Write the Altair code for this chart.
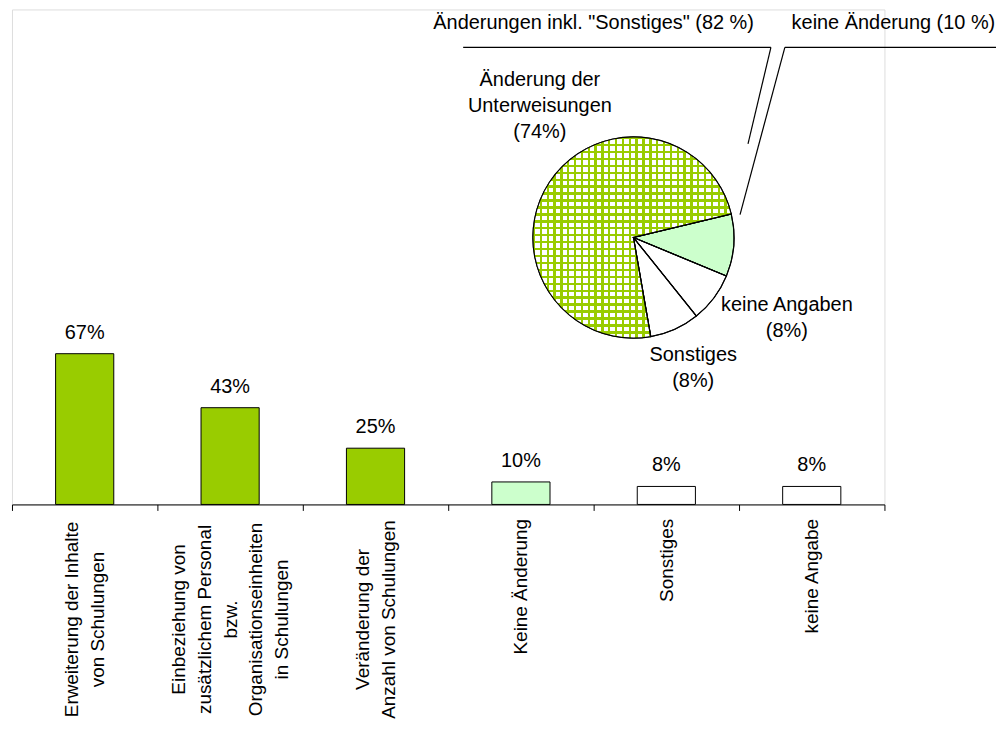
import math
import altair as alt
import pandas as pd

# ---- bar data ----
categories = [
    "Erweiterung der Inhalte|von Schulungen",
    "Einbeziehung von|zusätzlichem Personal|bzw.|Organisationseinheiten|in Schulungen",
    "Veränderung der|Anzahl von Schulungen",
    "Keine Änderung",
    "Sonstiges",
    "keine Angabe",
]
values = [67, 43, 25, 10, 8, 8]
bar_colors = ["#99cc00", "#99cc00", "#99cc00", "#ccffcc", "#ffffff", "#ffffff"]

# ---- pie data ----
pie_labels = ["keine Änderung", "keine Angaben", "Sonstiges", "Änderung der Unterweisungen"]
pie_values = [10, 8, 8, 74]
pie_colors = ["#ccffcc", "#ffffff", "#ffffff", "#ffffff"]
pie_order = [1, 2, 3, 4]

FONT = "Liberation Sans"
FS = 20
LH = 26

bars_df = pd.DataFrame({
    "cat": categories,
    "v": values,
    "col": bar_colors,
    "lab": [f"{v}%" for v in values],
})
pie_df = pd.DataFrame({"lab": pie_labels, "v": pie_values, "col": pie_colors, "o": pie_order})
one = pd.DataFrame({"a": [0]})

# multi-line axis labels: block centred on the band, lines centred on each other
n_lines = "length(split(datum.value, '|'))"
multi = f"{n_lines} > 1"
label_offset = {
    "condition": [
        {"test": f"{n_lines} == 2", "value": -LH / 2},
        {"test": f"{n_lines} == 5", "value": -2 * LH},
    ],
    "value": 0,
}
label_align = {"condition": {"test": multi, "value": "center"}, "value": "right"}
label_padding = {"condition": {"test": multi, "value": 109}, "value": 8}

x_enc = alt.X(
    "cat:N",
    sort=categories,
    scale=alt.Scale(paddingInner=0, paddingOuter=0),
    axis=alt.Axis(
        title=None,
        labelAngle=270,
        labelAlign=label_align,
        labelBaseline="middle",
        labelExpr="split(datum.label, '|')",
        labelFontSize=19,
        labelFont=FONT,
        labelColor="black",
        labelLineHeight=LH,
        labelLimit=0,
        labelOverlap=False,
        labelPadding=label_padding,
        labelOffset=label_offset,
        tickBand="extent",
        tickSize=6,
        tickColor="black",
        tickWidth=1,
        domainColor="black",
        grid=False,
    ),
)
y_enc = alt.Y("v:Q", scale=alt.Scale(domain=[0, 215]), axis=None)

bars = alt.Chart(bars_df).mark_bar(
    stroke="black", strokeWidth=1, width=alt.RelativeBandSize(0.4)
).encode(x=x_enc, y=y_enc, fill=alt.Fill("col:N", scale=None))
bar_text = alt.Chart(bars_df).mark_text(
    baseline="alphabetic", dy=-15, fontSize=FS, font=FONT, color="black"
).encode(x=alt.X("cat:N", sort=categories), y="v:Q", text="lab:N")

# ---- pie ----
CX, CY, R = 624, 229, 101
start = math.radians(76.5)
theta = alt.Theta("v:Q", stack=True, scale=alt.Scale(range=[start, start + 2 * math.pi]))
order = alt.Order("o:Q")

def stripes(n, frac, c_line, c_gap, vertical_dir):
    stops = []
    for k in range(n):
        a = round(k / n, 6)
        b = round((k + frac) / n, 6)
        c = round((k + 1) / n, 6)
        stops += [
            alt.GradientStop(offset=a, color=c_line),
            alt.GradientStop(offset=b, color=c_line),
            alt.GradientStop(offset=b, color=c_gap),
            alt.GradientStop(offset=c, color=c_gap),
        ]
    if vertical_dir:
        return alt.LinearGradient(gradient="linear", stops=stops, x1=0, y1=0, x2=0, y2=1)
    return alt.LinearGradient(gradient="linear", stops=stops, x1=0, y1=0, x2=1, y2=0)

GREEN = "#99cc00"
grad_h = stripes(29, 0.34, GREEN, "#ffffff", True)
grad_v = stripes(29, 0.34, GREEN, "rgba(255,255,255,0)", False)
is_hatched = alt.datum.lab == "Änderung der Unterweisungen"

pie_base = alt.Chart(pie_df).mark_arc(radius=R, stroke="black", strokeWidth=1).encode(
    theta=theta, order=order, fill=alt.Fill("col:N", scale=None),
    x=alt.value(CX), y=alt.value(CY),
)
pie_h = alt.Chart(pie_df).mark_arc(radius=R, fill=grad_h, strokeWidth=0).encode(
    theta=theta, order=order, x=alt.value(CX), y=alt.value(CY),
    opacity=alt.condition(is_hatched, alt.value(1), alt.value(0)),
)
pie_v = alt.Chart(pie_df).mark_arc(radius=R, fill=grad_v, strokeWidth=0).encode(
    theta=theta, order=order, x=alt.value(CX), y=alt.value(CY),
    opacity=alt.condition(is_hatched, alt.value(1), alt.value(0)),
)
pie_outline = alt.Chart(pie_df).mark_arc(
    radius=R, fillOpacity=0, stroke="black", strokeWidth=1.2
).encode(theta=theta, order=order, x=alt.value(CX), y=alt.value(CY))

def note(txt, x, y):
    # y is the position of the first line
    return alt.Chart(one).mark_text(
        text=txt, align="center", baseline="middle", lineBreak="\n",
        lineHeight=LH, fontSize=FS, font=FONT, color="black",
    ).encode(x=alt.value(x), y=alt.value(y))

def seg(x1, y1, x2, y2):
    return alt.Chart(one).mark_rule(color="black", strokeWidth=1.2).encode(
        x=alt.value(x1), y=alt.value(y1), x2=alt.value(x2), y2=alt.value(y2)
    )

notes = [
    note("Änderung der\nUnterweisungen\n(74%)", 530, 71),
    note("keine Angaben\n(8%)", 778, 297),
    note("Sonstiges\n(8%)", 684, 347),
    note('Änderungen inkl. "Sonstiges" (82 %)', 584, 14),
    note("keine Änderung (10 %)", 885, 14),
]
segs = [
    seg(453, 38, 762, 38),
    seg(762, 38, 739, 135),
    seg(776, 38, 990, 38),
    seg(776, 38, 731, 206),
]

chart = alt.layer(
    bars, bar_text, pie_base, pie_h, pie_v, pie_outline, *notes, *segs
).properties(
    width=876,
    height=497,
    padding={"left": 4, "top": 0, "right": 112, "bottom": 218},
    autosize=alt.AutoSizeParams(type="none"),
).configure_view(stroke=None).configure(font=FONT)

chart.save("out.html", embed_options={"renderer": "svg", "actions": False})
